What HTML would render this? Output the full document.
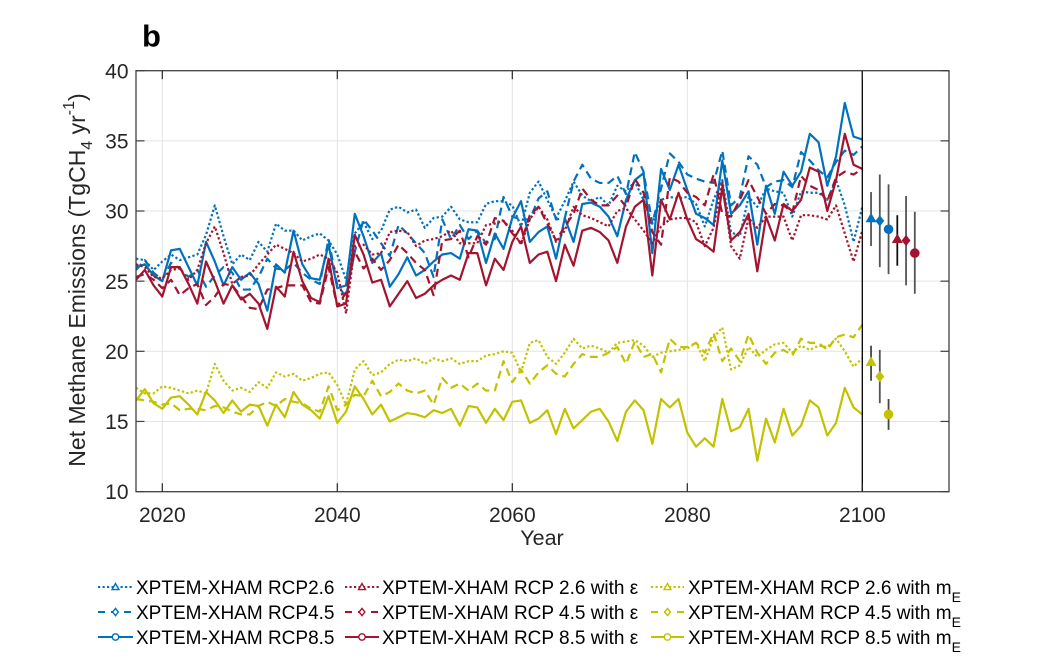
<!DOCTYPE html>
<html>
<head>
<meta charset="utf-8">
<style>
  html,body{margin:0;padding:0;background:#fff;}
  svg{display:block;font-family:"Liberation Sans",Arial,sans-serif;}
</style>
</head>
<body>
<svg id="c" width="1049" height="666" viewBox="0 0 1049 666" xmlns="http://www.w3.org/2000/svg">
  <rect x="0" y="0" width="1049" height="666" fill="#fff"/>
  <defs>
    <clipPath id="ax"><rect x="136" y="70.7" width="813" height="421"/></clipPath>
  </defs>
  <g id="grid"></g>
  <g id="lines" clip-path="url(#ax)"></g>
  <g id="err"></g>
  <g id="axes"></g>
  <g id="labels" fill="#262626"></g>
  <text x="142" y="46.5" font-size="31" font-weight="bold" fill="#000">b</text>
  <text x="542" y="545" font-size="21.5" text-anchor="middle" fill="#262626">Year</text>
  <text transform="translate(85,280) rotate(-90)" font-size="23" text-anchor="middle" fill="#262626">Net Methane Emissions (TgCH<tspan dy="7" font-size="16">4</tspan><tspan dy="-7"> yr</tspan><tspan dy="-11" font-size="16">-1</tspan><tspan dy="11">)</tspan></text>
  <g id="legend" font-size="19" fill="#000"></g>
</svg>
<script>
(function(){
var NS="http://www.w3.org/2000/svg";
function el(tag,attrs,parent,text){var e=document.createElementNS(NS,tag);for(var k in attrs)e.setAttribute(k,attrs[k]);if(text!==undefined)e.textContent=text;parent.appendChild(e);return e;}
var X=function(yr){return 162.3+(yr-2020)*8.75;};
var Y=function(v){return 70.7+(40-v)*14.03;};
var L=136,R=949,T=70.7,B=491.7;
var blue="#0072BD",red="#A2142F",yel="#C2C200";

var g=document.getElementById("grid");
[2020,2040,2060,2080,2100].forEach(function(yr){el("line",{x1:X(yr),x2:X(yr),y1:T,y2:B,stroke:"#e3e3e3","stroke-width":1},g);});
[15,20,25,30,35].forEach(function(v){el("line",{x1:L,x2:R,y1:Y(v),y2:Y(v),stroke:"#e3e3e3","stroke-width":1},g);});

var B26=[26.6,26.5,25.8,26.4,26.9,26.5,26.7,26.9,28.3,30.4,28.2,26.2,26.9,26.5,27.8,27.1,29.1,28.6,28.6,27.9,28.2,28.4,27.9,26.9,25.1,28.4,29.2,28.0,28.6,30.1,30.3,29.9,30.1,28.8,29.5,29.6,30.3,29.4,29.2,29.2,30.5,30.7,30.7,30.4,28.9,31.3,32.1,30.8,29.5,30.7,32.1,31.1,30.7,31.0,30.4,31.8,31.4,32.1,30.8,29.1,30.8,31.0,30.9,31.0,30.5,28.9,30.8,32.2,28.5,28.2,31.0,30.3,31.6,31.4,31.3,29.6,31.4,31.3,31.3,30.8,32.2,30.4,27.8,30.3];
var B45=[25.8,26.5,25.6,25.1,26.3,25.9,25.3,25.8,24.6,25.4,26.0,25.6,24.4,24.4,25.3,26.6,25.9,25.8,26.3,25.6,25.1,24.8,28.0,24.7,23.9,27.1,29.4,28.6,27.7,26.8,29.0,28.4,27.7,27.0,25.3,29.4,28.0,29.0,28.0,28.6,27.7,28.0,31.0,29.6,29.4,29.4,30.9,31.4,29.4,29.5,32.1,33.3,32.3,32.0,32.0,32.5,31.2,34.2,32.8,29.1,31.6,34.1,33.5,32.6,32.3,32.1,32.0,34.3,30.4,31.0,33.9,33.3,31.7,32.1,32.2,31.7,34.2,33.6,32.9,32.4,33.5,34.3,34.0,34.6];
var B85=[26.0,26.2,25.4,25.0,27.2,27.3,26.0,24.7,27.8,26.4,24.7,26.0,25.1,25.6,24.8,22.9,26.2,25.6,28.6,26.2,25.2,25.1,27.6,24.5,24.7,29.8,28.2,26.3,27.0,24.6,25.5,26.7,25.4,25.8,26.4,26.9,27.0,26.6,28.7,28.6,26.3,28.4,27.3,29.5,30.7,27.8,28.5,28.9,26.6,29.5,27.8,30.5,30.6,30.3,29.6,28.2,30.8,32.2,32.7,27.0,33.0,31.5,33.3,31.5,29.8,29.5,29.0,33.6,29.8,30.4,31.4,27.6,31.8,29.8,32.8,31.8,32.8,35.5,34.9,31.8,33.9,37.7,35.3,35.1];
var R26=[26.2,26.0,25.3,25.2,25.8,25.9,25.1,25.8,27.7,28.9,27.0,24.8,25.3,25.4,26.2,26.9,27.6,27.3,27.0,26.4,26.6,26.9,26.6,25.6,22.7,27.5,27.6,26.9,27.0,28.5,28.6,28.5,27.5,27.9,28.0,28.2,28.6,27.7,27.7,27.7,29.0,29.1,29.3,28.6,27.6,29.4,30.3,29.4,27.8,28.6,30.3,29.7,29.5,29.2,28.9,30.0,30.2,29.4,28.6,27.7,28.9,29.4,29.5,29.5,29.2,27.5,28.8,32.1,27.5,26.6,29.5,28.8,29.6,29.6,29.6,27.9,29.7,29.7,29.6,29.4,30.4,28.4,26.4,28.6];
var R45=[25.3,25.5,25.1,24.5,25.1,24.0,24.5,24.8,23.3,23.9,24.8,24.7,23.9,23.1,23.0,24.4,24.5,24.7,24.7,24.7,23.5,23.4,26.0,23.2,24.2,27.1,25.9,26.6,25.8,26.5,27.6,27.0,26.3,25.8,24.0,27.9,28.0,28.6,26.7,28.2,27.6,29.5,29.3,28.4,27.7,29.7,30.3,29.1,27.9,28.9,29.8,31.6,30.8,30.4,30.4,31.1,30.3,32.3,31.3,28.5,27.6,32.4,32.1,31.3,31.0,30.4,32.6,29.8,29.6,30.8,32.2,31.0,29.8,30.5,30.4,29.9,32.5,31.8,31.5,30.7,32.4,32.8,32.6,33.0];
var R85=[25.1,25.8,24.7,23.9,26.0,26.0,24.8,23.4,26.4,25.0,23.4,24.7,23.7,24.1,23.4,21.6,24.6,23.9,27.1,25.0,23.8,23.5,26.6,23.2,23.4,28.3,26.9,24.9,25.1,23.2,24.1,25.0,23.8,24.1,24.7,25.1,25.4,25.1,27.0,27.0,24.7,26.6,25.8,27.8,28.9,26.3,26.9,27.1,25.0,27.6,26.1,28.6,28.8,28.5,27.9,26.3,28.9,30.3,30.8,25.4,30.8,29.4,31.3,29.4,28.0,27.6,27.1,31.7,27.9,28.5,29.8,25.7,29.6,27.9,30.5,30.0,30.8,33.1,32.8,30.0,32.2,35.5,33.3,33.0];
var Y26=[17.4,17.0,17.0,17.5,17.4,17.2,17.0,17.2,17.0,19.1,17.9,17.2,17.4,17.1,17.8,17.4,18.5,18.2,18.4,17.9,18.1,18.4,18.5,17.6,16.2,18.7,19.3,18.3,18.5,19.1,19.4,19.3,19.5,19.1,19.5,19.3,19.5,19.1,19.3,19.3,19.7,19.8,20.0,19.9,18.5,20.6,20.8,19.6,19.1,19.9,20.9,20.2,20.4,20.2,19.9,20.6,20.7,20.8,20.4,19.6,19.9,20.0,20.1,20.2,20.6,19.3,21.0,21.7,18.7,19.0,20.3,19.6,20.1,20.5,20.6,19.9,20.4,20.1,20.4,20.3,20.9,20.0,18.9,19.5];
var Y45=[16.6,16.5,16.4,16.2,16.3,15.8,15.9,15.9,15.8,16.1,16.0,15.7,15.5,15.5,16.1,16.4,16.1,16.6,16.4,16.3,15.9,15.7,17.5,15.8,16.2,16.9,16.8,17.9,16.8,17.1,17.7,17.2,17.0,17.2,16.2,18.1,17.4,17.7,17.2,17.7,17.2,17.2,19.3,17.8,18.7,17.7,18.5,19.0,18.4,18.2,19.1,19.8,19.6,19.6,19.9,20.3,19.1,20.7,19.6,19.8,18.5,20.9,20.3,20.3,20.6,19.9,21.3,19.3,20.2,19.3,21.2,19.9,19.1,19.9,20.1,19.7,20.9,20.6,20.6,20.1,21.0,21.2,21.0,21.9];
var Y85=[16.5,17.3,16.3,15.9,16.7,16.8,16.2,15.5,17.1,16.5,15.6,16.5,15.7,16.2,16.1,14.7,16.2,15.3,17.1,16.2,15.8,15.2,16.8,14.9,15.7,17.5,16.6,15.5,16.2,15.0,15.3,15.6,15.5,15.3,15.8,15.6,15.9,14.7,16.1,16.0,14.9,15.9,15.1,16.4,16.5,14.9,15.2,15.8,14.1,15.9,14.5,15.1,15.7,15.9,15.0,13.6,15.7,16.5,15.8,13.4,16.6,16.0,16.6,14.2,13.2,13.8,13.2,16.6,14.3,14.6,15.9,12.2,15.2,13.5,15.9,14.0,14.7,16.5,16.0,14.0,14.9,17.4,16.0,15.5];

var DOT="2.3 2.3", DASH="8 5";
var series=[
  [B26,blue,DOT],[B45,blue,DASH],[B85,blue,null],
  [R26,red,DOT],[R45,red,DASH],[R85,red,null],
  [Y26,yel,DOT],[Y45,yel,DASH],[Y85,yel,null]
];
var lg=document.getElementById("lines");
series.forEach(function(s){
  var pts=s[0].map(function(v,i){return X(2017+i).toFixed(2)+","+Y(v).toFixed(2);}).join(" ");
  var a={points:pts,fill:"none",stroke:s[1],"stroke-width":2.2,"stroke-linejoin":"round"};
  if(s[2])a["stroke-dasharray"]=s[2];
  el("polyline",a,lg);
});

var eg=document.getElementById("err");
var eb=[
  [2101,29.48,31.35,27.5,blue,"tri","#555"],
  [2102,29.3,32.6,26.0,blue,"dia","#555"],
  [2103,28.7,31.9,25.5,blue,"cir","#555"],
  [2104,28.0,29.7,26.1,red,"tri","#111"],
  [2105,27.9,31.07,24.7,red,"dia","#555"],
  [2106,27.0,29.95,24.1,red,"cir","#555"],
  [2101,19.24,20.4,17.9,yel,"tri","#444"],
  [2102,18.2,20.1,16.3,yel,"dia","#555"],
  [2103,15.5,16.6,14.4,yel,"cir","#444"]
];
function marker(type,x,y,c,parent,open,s){
  s=s||1;
  var fill=open?"#fff":c;
  if(type==="tri"){
    el("polygon",{points:(x-4.6*s)+","+(y+3.4*s)+" "+(x+4.6*s)+","+(y+3.4*s)+" "+x+","+(y-4.6*s),fill:fill,stroke:c,"stroke-width":open?1.4:1},parent);
  }else if(type==="dia"){
    el("polygon",{points:x+","+(y-4.8*s)+" "+(x+3.8*s)+","+y+" "+x+","+(y+4.8*s)+" "+(x-3.8*s)+","+y,fill:fill,stroke:c,"stroke-width":open?1.4:1},parent);
  }else{
    el("circle",{cx:x,cy:y,r:4.3*s,fill:fill,stroke:c,"stroke-width":open?1.4:1},parent);
  }
}
eb.forEach(function(e){
  var x=X(e[0]);
  el("line",{x1:x,x2:x,y1:Y(e[2]),y2:Y(e[3]),stroke:e[6],"stroke-width":1.8},eg);
  marker(e[5],x,Y(e[1]),e[4],eg,false,1);
});

var ag=document.getElementById("axes");
el("line",{x1:X(2100),x2:X(2100),y1:T,y2:B,stroke:"#000","stroke-width":1.3},ag);
el("rect",{x:L,y:T,width:R-L,height:B-T,fill:"none",stroke:"#404040","stroke-width":1.3},ag);
[2020,2040,2060,2080,2100].forEach(function(yr){
  var x=X(yr);
  el("line",{x1:x,x2:x,y1:B,y2:B-8.5,stroke:"#262626","stroke-width":1.2},ag);
  el("line",{x1:x,x2:x,y1:T,y2:T+8.5,stroke:"#262626","stroke-width":1.2},ag);
});
[10,15,20,25,30,35,40].forEach(function(v){
  var y=Y(v);
  el("line",{x1:L,x2:L+8.5,y1:y,y2:y,stroke:"#404040","stroke-width":1.2},ag);
  el("line",{x1:R,x2:R-8.5,y1:y,y2:y,stroke:"#404040","stroke-width":1.2},ag);
});

var tg=document.getElementById("labels");
[2020,2040,2060,2080,2100].forEach(function(yr){
  el("text",{x:X(yr),y:521.8,"font-size":21,"text-anchor":"middle"},tg,String(yr));
});
[10,15,20,25,30,35,40].forEach(function(v){
  el("text",{x:128.5,y:Y(v)+7.6,"font-size":21,"text-anchor":"end"},tg,String(v));
});

var leg=document.getElementById("legend");
var cols=[
  {x1:98,x2:133,tx:136,c:blue,labels:["XPTEM-XHAM RCP2.6","XPTEM-XHAM RCP4.5","XPTEM-XHAM RCP8.5"],sub:false},
  {x1:345,x2:379,tx:382,c:red,labels:["XPTEM-XHAM RCP 2.6 with \u03b5","XPTEM-XHAM RCP 4.5 with \u03b5","XPTEM-XHAM RCP 8.5 with \u03b5"],sub:false},
  {x1:651,x2:684,tx:688,c:yel,labels:["XPTEM-XHAM RCP 2.6 with m","XPTEM-XHAM RCP 4.5 with m","XPTEM-XHAM RCP 8.5 with m"],sub:true}
];
var types=["tri","dia","cir"],dashes=[DOT,DASH,null];
var rows=[587,612,637];
cols.forEach(function(col){
  for(var r=0;r<3;r++){
    var y=rows[r];
    var a={x1:col.x1,x2:col.x2,y1:y,y2:y,stroke:col.c,"stroke-width":2};
    if(dashes[r])a["stroke-dasharray"]=(r===1?"7 6":"2.2 2.3");
    el("line",a,leg);
    marker(types[r],(col.x1+col.x2)/2,y,col.c,leg,true,0.75);
    var t=el("text",{x:col.tx,y:y+7},leg,col.labels[r]);
    if(col.sub){el("tspan",{dy:8,"font-size":14},t,"E");}
  }
});
})();
</script>
</body>
</html>
